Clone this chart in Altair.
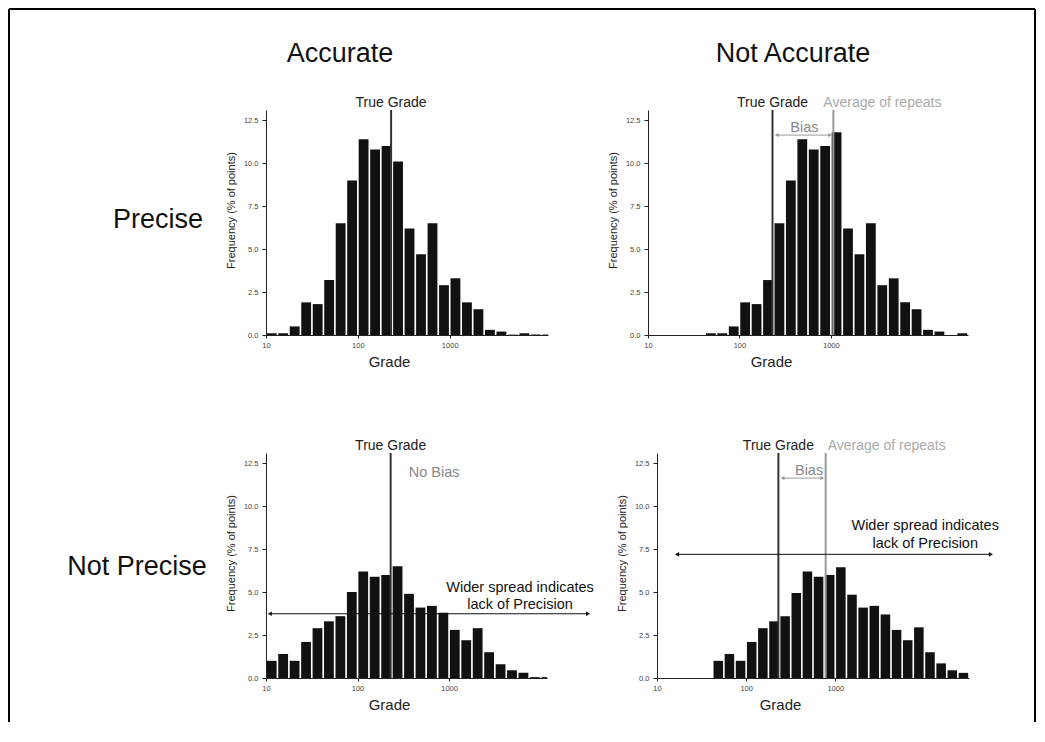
import altair as alt
import pandas as pd

FONT = "Liberation Sans"

# ---------------- data ----------------
BIN_START_LOG10 = 1.0        # first histogram bin starts at grade 10
BINS_PER_DECADE = 8          # 8 log-bins per decade
BIAS_SHIFT_BINS = 5          # the "not accurate" histograms are shifted by 5 bins

PRECISE_ACCURATE = [0.1, 0.1, 0.5, 1.9, 1.8, 3.2, 6.5, 9.0, 11.4, 10.8, 11.0, 10.1,
                    6.2, 4.7, 6.5, 2.9, 3.3, 1.9, 1.5, 0.3, 0.2, 0.02, 0.1, 0.03, 0.03]
PRECISE_BIASED = [0.1, 0.1, 0.5, 1.9, 1.8, 3.2, 6.5, 9.0, 11.4, 10.8, 11.0, 11.8,
                  6.2, 4.7, 6.5, 2.9, 3.3, 1.9, 1.5, 0.3, 0.2, 0.0, 0.1]
IMPRECISE_ACCURATE = [1.0, 1.4, 1.0, 2.1, 2.9, 3.3, 3.6, 5.0, 6.2, 5.9, 6.0, 6.5,
                      4.9, 4.1, 4.2, 3.8, 2.8, 2.2, 2.9, 1.5, 0.8, 0.45, 0.3, 0.05, 0.05]
IMPRECISE_BIASED = [1.0, 1.4, 1.0, 2.1, 2.9, 3.3, 3.6, 4.95, 6.2, 5.9, 6.0, 6.45,
                    4.85, 4.1, 4.2, 3.7, 2.8, 2.2, 2.95, 1.5, 0.85, 0.45, 0.3]

TRUE_GRADE = 230
AVG_REPEATS_PRECISE = 1065
AVG_REPEATS_IMPRECISE = 780

BIAS_ARROW_PRECISE = [256, 980]
BIAS_ARROW_IMPRECISE = [256, 714]
SPREAD_ARROW_ACCURATE = [11, 33000]
SPREAD_ARROW_BIASED = [16.8, 55700]

X_TICKS = [10, 100, 1000]
Y_TICKS = [0, 2.5, 5, 7.5, 10, 12.5]

COL_TITLES = ["Accurate", "Not Accurate"]
ROW_TITLES = ["Precise", "Not Precise"]
SPREAD_LINES = ["Wider spread indicates", "lack of Precision"]

# ---------------- helpers ----------------
YMAX = 13.1
GAP = 0.009
ONE = pd.DataFrame({"k": [0]})


def hist_df(freqs, shift):
    rows = []
    for i, f in enumerate(freqs):
        k = i + shift
        rows.append({
            "lo": 10 ** (BIN_START_LOG10 + k / BINS_PER_DECADE + GAP),
            "hi": 10 ** (BIN_START_LOG10 + (k + 1) / BINS_PER_DECADE - GAP),
            "freq": f,
            "zero": 0.0,
        })
    return pd.DataFrame(rows)


def base_bars(freqs, shift, xmax):
    xs = alt.Scale(type="log", domain=[10, xmax], nice=False)
    ys = alt.Scale(domain=[0, YMAX], nice=False)
    x_axis = alt.Axis(values=X_TICKS, format=".0f", title="Grade", tickSize=3,
                      labelPadding=3, labelFlush=False, titleX=123, titleY=31,
                      titleBaseline="alphabetic", titleAlign="center",
                      titleFontSize=15, zindex=1)
    y_axis = alt.Axis(values=Y_TICKS, format=".1f", title="Frequency (% of points)",
                      tickSize=4, labelPadding=4, titleX=-30, titleY=100,
                      titleAngle=-90, titleBaseline="bottom", titleAlign="center",
                      titleFontSize=11, zindex=1)
    return alt.Chart(hist_df(freqs, shift)).mark_rect(color="#111", clip=True).encode(
        x=alt.X("lo:Q", scale=xs, axis=x_axis),
        x2="hi:Q",
        y=alt.Y("freq:Q", scale=ys, axis=y_axis),
        y2="zero:Q",
    )


def vline(xv, color):
    return alt.Chart(ONE).mark_rule(color=color, strokeWidth=2).encode(x=alt.datum(xv))


def label(txt, x, y, size=14, color="#222", align="center", dx=0, dy=0):
    return alt.Chart(ONE).mark_text(fontSize=size, color=color, align=align,
                                    baseline="alphabetic", dx=dx, dy=dy, font=FONT).encode(
        x=x, y=y, text=alt.value(txt))


def arrow(xr, yv, color, size, width):
    line = alt.Chart(ONE).mark_rule(color=color, strokeWidth=width).encode(
        x=alt.datum(xr[0]), x2=alt.datum(xr[1]), y=alt.datum(yv))
    heads = alt.Chart(pd.DataFrame({"x": xr, "s": ["triangle-left", "triangle-right"]})).mark_point(
        filled=True, color=color, size=size, opacity=1).encode(
        x="x:Q", y=alt.datum(yv), shape=alt.Shape("s:N", scale=None))
    return [line, heads]


def spread_text(xc, ys):
    df = pd.DataFrame({"t": SPREAD_LINES, "y": ys})
    return alt.Chart(df).mark_text(fontSize=14.5, color="#111", align="center",
                                   baseline="alphabetic", font=FONT).encode(
        x=alt.datum(xc), y="y:Q", text="t:N")


def frame():
    c = "#000"
    left = alt.Chart(ONE).mark_rule(color=c, strokeWidth=2).encode(
        x=alt.value(-257), y=alt.value(-101), y2=alt.value(612))
    top = alt.Chart(ONE).mark_rule(color=c, strokeWidth=2).encode(
        x=alt.value(-257), x2=alt.value(769), y=alt.value(-101))
    right = alt.Chart(ONE).mark_rule(color=c, strokeWidth=2).encode(
        x=alt.value(769), y=alt.value(-101), y2=alt.value(612))
    return [left, top, right]


# ---------------- panels ----------------
tl = alt.layer(
    base_bars(PRECISE_ACCURATE, 0, 10 ** 4.07),
    vline(TRUE_GRADE, "#333"),
    label("True Grade", alt.datum(TRUE_GRADE), alt.value(-3)),
    label(COL_TITLES[0], alt.value(74), alt.value(-48), size=27, color="#111"),
    label(ROW_TITLES[0], alt.value(-108), alt.value(118), size=27, color="#111"),
    *frame(),
).properties(width=282, height=225)

tr = alt.layer(
    base_bars(PRECISE_BIASED, BIAS_SHIFT_BINS, 10 ** 4.5),
    vline(TRUE_GRADE, "#333"),
    vline(AVG_REPEATS_PRECISE, "#999"),
    label("True Grade", alt.datum(TRUE_GRADE), alt.value(-3)),
    label("Average of repeats", alt.datum(AVG_REPEATS_PRECISE), alt.value(-3),
          color="#aaa", align="left", dx=-10),
    *arrow(BIAS_ARROW_PRECISE, 11.64, "#999", 18, 1),
    label("Bias", alt.datum(513), alt.datum(11.64), size=14.5, color="#888", dy=-3),
    label(COL_TITLES[1], alt.value(145), alt.value(-48), size=27, color="#111"),
).properties(width=320, height=225)

bl = alt.layer(
    base_bars(IMPRECISE_ACCURATE, 0, 10 ** 4.07),
    vline(TRUE_GRADE, "#333"),
    label("True Grade", alt.datum(TRUE_GRADE), alt.value(-3)),
    label("No Bias", alt.datum(686), alt.datum(11.7), size=14.5, color="#888"),
    *arrow(SPREAD_ARROW_ACCURATE, 3.74, "#111", 22, 1),
    spread_text(5970, [5.03, 4.03]),
    label(ROW_TITLES[1], alt.value(-129), alt.value(122), size=27, color="#111"),
).properties(width=281, height=225)

br = alt.layer(
    base_bars(IMPRECISE_BIASED, BIAS_SHIFT_BINS, 10 ** 4.5),
    vline(TRUE_GRADE, "#333"),
    vline(AVG_REPEATS_IMPRECISE, "#999"),
    label("True Grade", alt.datum(TRUE_GRADE), alt.value(-3)),
    label("Average of repeats", alt.datum(AVG_REPEATS_IMPRECISE), alt.value(-3),
          color="#aaa", align="left", dx=2),
    *arrow(BIAS_ARROW_IMPRECISE, 11.64, "#999", 18, 1),
    label("Bias", alt.datum(508), alt.datum(11.64), size=14.5, color="#888", dy=-3),
    *arrow(SPREAD_ARROW_BIASED, 7.2, "#111", 22, 1),
    spread_text(10200, [8.6, 7.58]),
).properties(width=312, height=225)

row1 = alt.hconcat(tl, tr, spacing=100, bounds="flush")
row2 = alt.hconcat(bl, br, spacing=110, bounds="flush")

# with flush bounds a nested row counts as zero height, so the spacing is
# the first row's plot height (225) plus the visual gap (118)
chart = alt.vconcat(row1, row2, spacing=343, bounds="flush").properties(
    padding=0, background="white"
).configure_view(stroke=None).configure_axis(
    grid=False, domainColor="#222", tickColor="#222", labelColor="#444",
    labelFont=FONT, labelFontSize=7.5, titleFont=FONT, titleColor="#222",
    titleFontWeight="normal",
).configure_text(font=FONT)

chart.save("out.html", embed_options={"renderer": "svg", "actions": False})
